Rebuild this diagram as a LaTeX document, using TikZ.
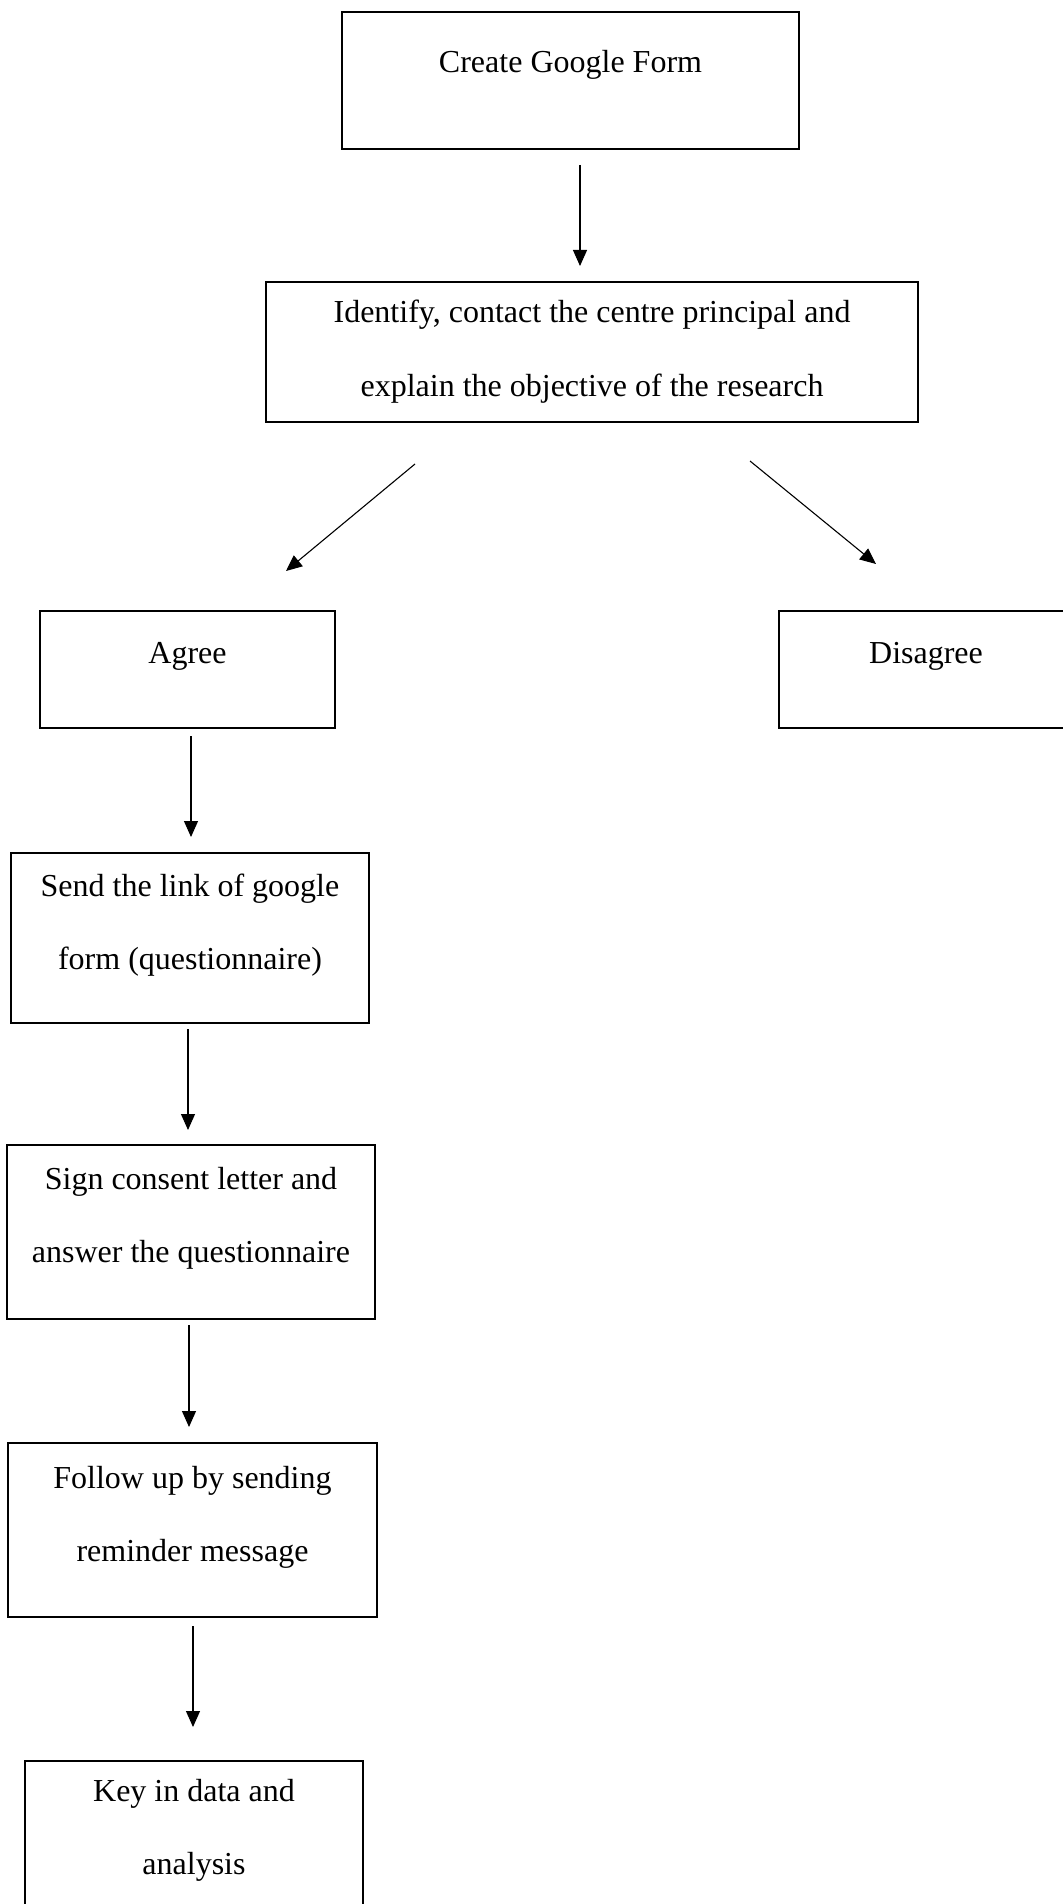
\documentclass[tikz,border=0pt]{standalone}
\usepackage{fontspec}
\setmainfont{Liberation Serif}
\usetikzlibrary{arrows.meta}
\begin{document}
\begin{tikzpicture}[x=0.5pt,y=-0.5pt,
  boxnode/.style={draw=black,line width=1.2pt,inner sep=0pt,outer sep=0pt},
  txt/.style={anchor=base,inner sep=0pt,font=\fontsize{16}{19}\selectfont},
  conn/.style={line width=0.55pt,-{Triangle[length=8pt,width=7pt]}}]
\useasboundingbox (0,0) rectangle (1062,1904);
\fill[white] (0,0) rectangle (1062,1904);
% boxes (sizes in pt = pixels/2)
\node[boxnode,minimum width=228.5pt,minimum height=68.5pt] (b1) at (570.5,80.5) {};
\node[boxnode,minimum width=326pt,minimum height=70pt] (b2) at (592,352) {};
\node[boxnode,minimum width=147.5pt,minimum height=58.5pt] (b3) at (187.5,669.5) {};
\node[boxnode,minimum width=148pt,minimum height=58.5pt] (b4) at (927,669.5) {};
\node[boxnode,minimum width=179pt,minimum height=85pt] (b5) at (190,938) {};
\node[boxnode,minimum width=184pt,minimum height=87pt] (b6) at (191,1232) {};
\node[boxnode,minimum width=184.5pt,minimum height=87pt] (b7) at (192.5,1530) {};
\node[boxnode,minimum width=169pt,minimum height=77pt] (b8) at (194,1838) {};
% texts
\node[txt] (t1) at (570.5,73) {Create Google Form};
\node[txt] (t2a) at (592,323) {Identify, contact the centre principal and};
\node[txt] (t2b) at (592,396) {explain the objective of the research};
\node[txt] (t3) at (187.5,663) {Agree};
\node[txt] (t4) at (926,663) {Disagree};
\node[txt] (t5a) at (190,896) {Send the link of google};
\node[txt] (t5b) at (190,969) {form (questionnaire)};
\node[txt] (t6a) at (191,1189) {Sign consent letter and};
\node[txt] (t6b) at (191,1262) {answer the questionnaire};
\node[txt] (t7a) at (192.5,1488) {Follow up by sending};
\node[txt] (t7b) at (192.5,1561) {reminder message};
\node[txt] (t8a) at (194,1801) {Key in data and};
\node[txt] (t8b) at (194,1874) {analysis};
% connector end points
\coordinate (a1s) at (580,165);  \coordinate (a1e) at (580,266);
\coordinate (aLs) at (415,464);  \coordinate (aLe) at (286,571);
\coordinate (aRs) at (750,461);  \coordinate (aRe) at (876,564);
\coordinate (a3s) at (191,736);  \coordinate (a3e) at (191,837);
\coordinate (a5s) at (188,1029); \coordinate (a5e) at (188,1130);
\coordinate (a6s) at (189,1325); \coordinate (a6e) at (189,1427);
\coordinate (a7s) at (193,1626); \coordinate (a7e) at (193,1727);
\draw[conn] (a1s) -- (a1e);
\draw[conn] (aLs) -- (aLe);
\draw[conn] (aRs) -- (aRe);
\draw[conn] (a3s) -- (a3e);
\draw[conn] (a5s) -- (a5e);
\draw[conn] (a6s) -- (a6e);
\draw[conn] (a7s) -- (a7e);
\end{tikzpicture}
\end{document}
